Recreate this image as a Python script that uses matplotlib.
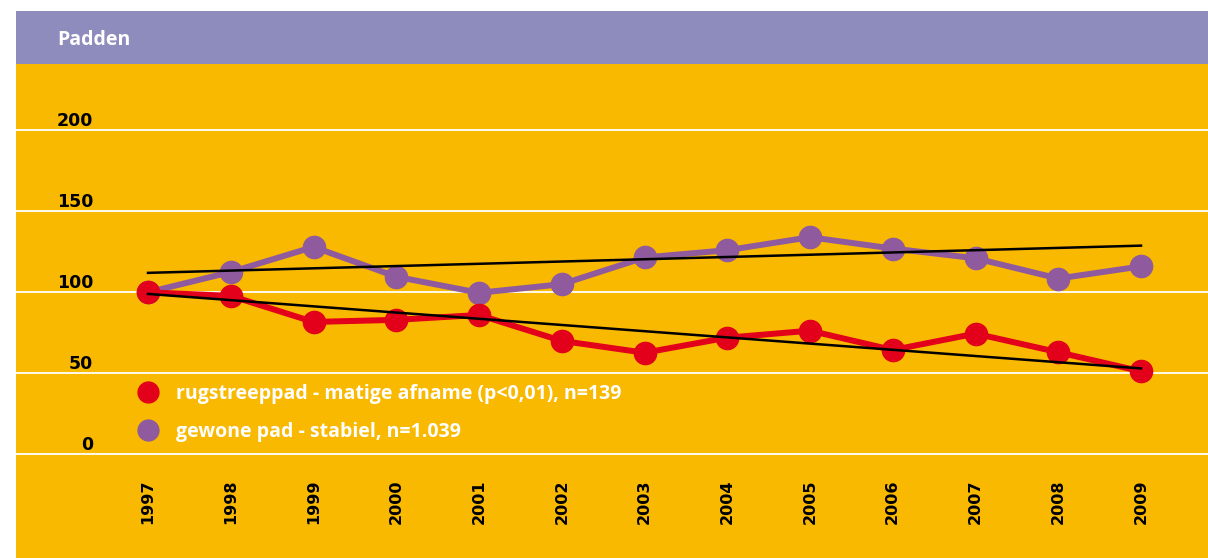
import matplotlib
matplotlib.use("Agg")
import matplotlib.pyplot as plt
from matplotlib.lines import Line2D
from matplotlib.patches import Rectangle

years = [1997, 1998, 1999, 2000, 2001, 2002, 2003, 2004, 2005, 2006, 2007, 2008, 2009]
rugstreeppad = [100, 97.8, 81.7, 83, 86, 70, 62.7, 72, 76.3, 64.4, 74.5, 63, 51.2]
gewone_pad = [100, 112.5, 128, 109.6, 99.7, 105, 121.5, 126, 134, 127, 121, 108.5, 116]
trend_years = [1997, 2009]
trend_rugstreeppad = [99, 53]
trend_gewone_pad = [112, 128.8]
yticks = [0, 50, 100, 150, 200]
labels = ["rugstreeppad - matige afname (p<0,01), n=139", "gewone pad - stabiel, n=1.039"]
title = "Padden"

ORANGE = "#F9B900"
BAND = "#8E8CBC"
RED = "#E2001A"
PURPLE = "#8F5A9E"

W, H = 1208, 558
fig = plt.figure(figsize=(W / 100, H / 100), dpi=100)
fig.patch.set_facecolor("white")

def fx(px):
    return px / W

def fy(py):
    return 1 - py / H

# header band
fig.patches.append(Rectangle((fx(16), fy(64)), fx(W) - fx(16), fy(11) - fy(64),
                             transform=fig.transFigure, facecolor=BAND, edgecolor="none", zorder=0))
fig.text(fx(57), fy(40), title, color="white", fontsize=14, fontweight="bold",
         family="Open Sans", va="center", ha="left")

ax = fig.add_axes([fx(16), 0, fx(W) - fx(16), fy(64)])
ax.set_facecolor(ORANGE)
for s in ax.spines.values():
    s.set_visible(False)

# data limits matching pixel layout
x0_px, dx_px = 148, 82.75
y0_px, dy_px = 454.3, 1.62
ax.set_xlim(1997 - (x0_px - 16) / dx_px, 1997 + (W - x0_px) / dx_px)
ax.set_ylim(-(H - y0_px) / dy_px, (y0_px - 64) / dy_px)
ax.set_xticks([])
ax.set_yticks([])

for v in yticks:
    ax.axhline(v, color="white", lw=1.3, zorder=1)
    ax.text((93 - 16) / (W - 16), v + 0.2, str(v), transform=ax.get_yaxis_transform(),
            ha="right", va="bottom", fontsize=12.5, fontweight="bold", color="black", family="DejaVu Sans")

for yr in years:
    ax.text(yr, -15.5, str(yr), rotation=90, ha="center", va="top", fontsize=11.5,
            fontweight="bold", color="black", family="DejaVu Sans")

ax.plot(years, gewone_pad, color=PURPLE, lw=4.3, marker="o", ms=16, zorder=3)
ax.plot(years, rugstreeppad, color=RED, lw=4.3, marker="o", ms=16, zorder=3)
ax.plot(trend_years, trend_gewone_pad, color="black", lw=1.8, zorder=4)
ax.plot(trend_years, trend_rugstreeppad, color="black", lw=1.8, zorder=4)

handles = [Line2D([], [], color=RED, marker="o", ms=15, lw=0),
           Line2D([], [], color=PURPLE, marker="o", ms=15, lw=0)]
leg = ax.legend(handles, labels, loc="upper left", bbox_to_anchor=(fx(138), fy(384)),
                bbox_transform=fig.transFigure, frameon=False, handlelength=1.0,
                handletextpad=0.95, labelspacing=0.92, borderpad=0, borderaxespad=0,
                prop={"family": "Open Sans", "weight": "bold", "size": 14})
for t in leg.get_texts():
    t.set_color("white")

fig.savefig("out.png", dpi=100, facecolor=fig.get_facecolor())
